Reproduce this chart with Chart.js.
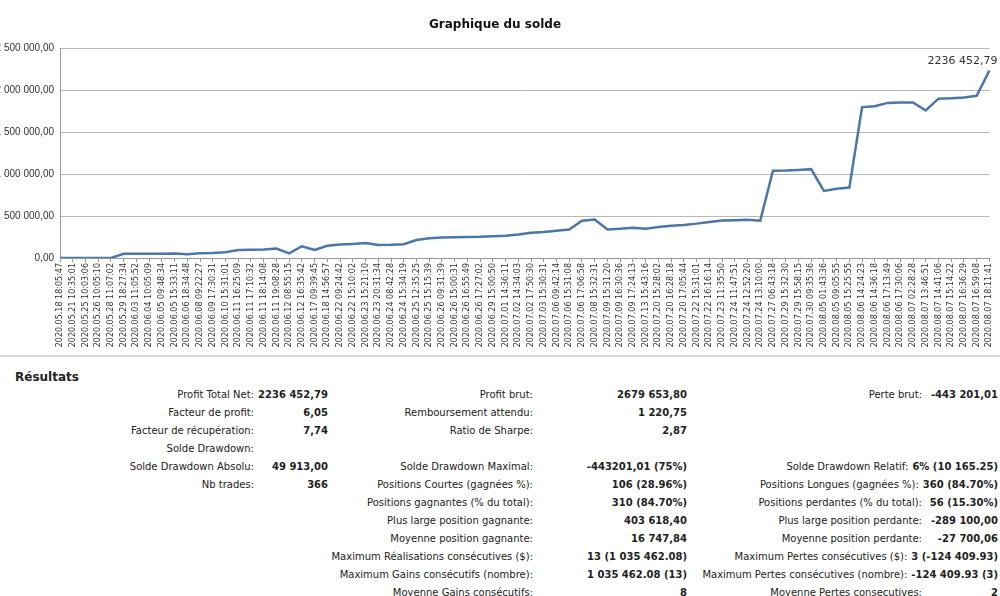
<!DOCTYPE html>
<html>
<head>
<meta charset="utf-8">
<script src="https://cdn.jsdelivr.net/npm/chart.js@4/dist/chart.umd.min.js"></script>
<style>
  body { margin: 0; width: 1000px; height: 596px; background: #fff; font-family: "DejaVu Sans", Tahoma, sans-serif; overflow: hidden; position: relative; }
  #chartBox { position: absolute; left: 0; top: 0; width: 1000px; height: 355px; border-bottom: 2px solid #d8d8d8; }
  #results { position: absolute; left: 0; top: 370px; width: 1000px; font-size: 10px; color: #222; }
  #results h3 { position: absolute; left: 15px; top: 0; margin: 0; font-size: 12px; font-weight: bold; }
  .row { position: absolute; display: flex; justify-content: flex-end; gap: 4px; white-space: nowrap; }
  .row b { text-align: right; }
</style>
</head>
<body>
<div id="chartBox"><canvas id="chart"></canvas></div>
<div id="results"><h3>Résultats</h3></div>
<script>
const dateLabels = [
  "2020.05.18 18:05:47","2020.05.21 10:35:01","2020.05.25 10:03:06","2020.05.26 10:05:10","2020.05.28 11:07:02",
  "2020.05.29 18:27:34","2020.06.03 11:05:52","2020.06.04 10:05:09","2020.06.05 09:48:34","2020.06.05 15:33:11",
  "2020.06.06 18:34:48","2020.06.08 09:22:27","2020.06.09 17:30:31","2020.06.10 15:31:01","2020.06.11 16:25:09",
  "2020.06.11 17:10:32","2020.06.11 18:14:08","2020.06.11 19:08:28","2020.06.12 08:55:15","2020.06.12 16:35:42",
  "2020.06.17 09:39:45","2020.06.18 14:56:57","2020.06.22 09:24:42","2020.06.22 15:10:02","2020.06.23 15:21:10",
  "2020.06.23 20:31:34","2020.06.24 08:42:28","2020.06.24 15:34:19","2020.06.25 12:35:25","2020.06.25 15:15:39",
  "2020.06.26 09:31:39","2020.06.26 15:00:31","2020.06.26 16:55:49","2020.06.26 17:27:02","2020.06.29 15:00:50",
  "2020.07.01 14:36:11","2020.07.02 14:34:03","2020.07.02 17:50:30","2020.07.03 15:30:31","2020.07.06 09:42:14",
  "2020.07.06 15:31:08","2020.07.06 17:06:58","2020.07.08 15:32:31","2020.07.09 15:31:20","2020.07.09 16:30:36",
  "2020.07.09 17:24:13","2020.07.13 15:43:16","2020.07.20 15:28:02","2020.07.20 16:28:18","2020.07.20 17:05:44",
  "2020.07.22 15:31:01","2020.07.22 16:16:14","2020.07.23 11:35:50","2020.07.24 11:47:51","2020.07.24 12:52:20",
  "2020.07.24 13:10:00","2020.07.27 06:43:18","2020.07.29 15:32:30","2020.07.29 15:58:15","2020.07.30 09:35:36",
  "2020.08.05 01:43:36","2020.08.05 09:05:55","2020.08.05 15:25:55","2020.08.06 14:24:23","2020.08.06 14:36:18",
  "2020.08.06 17:13:49","2020.08.06 17:30:06","2020.08.07 02:28:28","2020.08.07 13:46:51","2020.08.07 14:41:06",
  "2020.08.07 15:14:22","2020.08.07 16:36:29","2020.08.07 16:59:08","2020.08.07 18:11:41"
];

const balance = [
  0, 0, 0, 0, 0, 50000, 50000, 50000, 52000, 55000,
  45000, 58000, 60000, 68000, 95000, 98000, 100000, 112000, 55000, 140000,
  95000, 145000, 160000, 168000, 178000, 155000, 158000, 165000, 215000, 235000,
  245000, 248000, 250000, 252000, 258000, 264000, 280000, 300000, 310000, 325000,
  340000, 445000, 460000, 340000, 350000, 360000, 350000, 370000, 385000, 395000,
  410000, 430000, 448000, 450000, 455000, 445000, 1040000, 1043000, 1050000, 1060000,
  800000, 825000, 840000, 1800000, 1810000, 1850000, 1855000, 1855000, 1760000, 1900000,
  1905000, 1915000, 1935000, 2236452.79
];

const yTicks = [0, 500000, 1000000, 1500000, 2000000, 2500000];
const lastText = "2236 452,79";

// results table: [label, value] per column, one entry per row
const colLeft = [
  ["Profit Total Net:", "2236 452,79"], ["Facteur de profit:", "6,05"], ["Facteur de récupération:", "7,74"],
  ["Solde Drawdown:", ""], ["Solde Drawdown Absolu:", "49 913,00"], ["Nb trades:", "366"]
];
const colMid = [
  ["Profit brut:", "2679 653,80"], ["Remboursement attendu:", "1 220,75"], ["Ratio de Sharpe:", "2,87"], null,
  ["Solde Drawdown Maximal:", "-443201,01 (75%)"], ["Positions Courtes (gagnées %):", "106 (28.96%)"],
  ["Positions gagnantes (% du total):", "310 (84.70%)"], ["Plus large position gagnante:", "403 618,40"],
  ["Moyenne position gagnante:", "16 747,84"], ["Maximum Réalisations consécutives ($):", "13 (1 035 462.08)"],
  ["Maximum Gains consécutifs (nombre):", "1 035 462.08 (13)"], ["Moyenne Gains consécutifs:", "8"]
];
const colRight = [
  ["Perte brut:", "-443 201,01"], null, null, null,
  ["Solde Drawdown Relatif:", "6% (10 165.25)"], ["Positions Longues (gagnées %):", "360 (84.70%)"],
  ["Positions perdantes (% du total):", "56 (15.30%)"], ["Plus large position perdante:", "-289 100,00"],
  ["Moyenne position perdante:", "-27 700,06"], ["Maximum Pertes consécutives ($):", "3 (-124 409.93)"],
  ["Maximum Pertes consécutives (nombre):", "-124 409.93 (3)"], ["Moyenne Pertes consecutives:", "2"]
];

function fmt(v, dec) {
  const parts = v.toFixed(dec).split(".");
  const intPart = parts[0].replace(/\B(?=(\d{3})+(?!\d))/g, " ");
  return dec ? intPart + "," + parts[1] : intPart;
}

function buildTable() {
  const box = document.getElementById("results");
  const cols = [[colLeft, 328, 70], [colMid, 687, 150], [colRight, 998, 72]];
  cols.forEach(([rows, right, w]) => {
    rows.forEach((r, i) => {
      if (!r) return;
      const d = document.createElement("div");
      d.className = "row";
      d.style.right = (1000 - right) + "px";
      d.style.top = (19 + i * 18) + "px";
      d.innerHTML = `<span>${r[0]}</span><b style="min-width:${w}px">${r[1]}</b>`;
      box.appendChild(d);
    });
  });
}
buildTable();

// last value label drawn above-left of the final point
const lastLabel = {
  id: "lastLabel",
  afterDatasetsDraw(chart) {
    const meta = chart.getDatasetMeta(0);
    const pt = meta.data[meta.data.length - 1];
    const ctx = chart.ctx;
    ctx.save();
    ctx.font = "11px 'DejaVu Sans', sans-serif";
    ctx.fillStyle = "#333";
    ctx.textAlign = "right";
    ctx.textBaseline = "bottom";
    ctx.fillText(lastText, pt.x + 8, pt.y - 4);
    ctx.restore();
  }
};

new Chart(document.getElementById("chart"), {
  type: "line",
  data: {
    labels: dateLabels,
    datasets: [{
      data: balance,
      borderColor: "#4a76a8",
      borderWidth: 2.5,
      pointRadius: 0,
      tension: 0
    }]
  },
  options: {
    responsive: true,
    maintainAspectRatio: false,
    animation: false,
    layout: { padding: { right: 10 } },
    plugins: {
      legend: { display: false },
      tooltip: { enabled: false },
      title: {
        display: true,
        text: "Graphique du solde",
        color: "#111",
        font: { family: "'DejaVu Sans', sans-serif", size: 12, weight: "bold" },
        padding: { top: 18, bottom: 16 }
      }
    },
    scales: {
      x: {
        grid: { drawOnChartArea: false, tickLength: 4, color: "#999" },
        border: { color: "#999" },
        ticks: {
          autoSkip: false,
          maxRotation: 90,
          minRotation: 90,
          color: "#333",
          padding: 1,
          font: { family: "'DejaVu Sans', sans-serif", size: 8 }
        },
        afterFit(scale) { scale.height = 97; }
      },
      y: {
        min: 0,
        max: 2500000,
        afterBuildTicks(scale) { scale.ticks = yTicks.map(v => ({ value: v })); },
        grid: { color: "#b8b8b8", drawTicks: false },
        border: { color: "#999" },
        ticks: {
          color: "#333",
          padding: 6,
          font: { family: "'Liberation Sans', Arial, sans-serif", size: 10 },
          callback: v => fmt(v, 2)
        },
        afterFit(scale) { scale.width = 60; }
      }
    }
  },
  plugins: [lastLabel]
});
</script>
</body>
</html>
